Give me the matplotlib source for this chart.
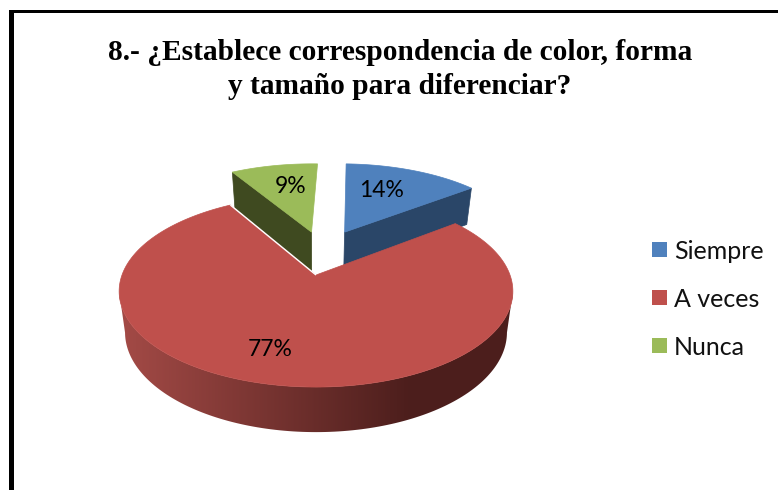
import numpy as np
import matplotlib
matplotlib.use('Agg')
import matplotlib.pyplot as plt
from matplotlib.colors import LinearSegmentedColormap
from matplotlib.patches import Polygon, Rectangle

categories = ['Siempre', 'A veces', 'Nunca']
percents = [14, 77, 9]
title_lines = ['8.- ¿Establece correspondencia de color, forma',
               'y tamaño para diferenciar?']

top_colors = ['#4F81BD', '#BF504C', '#9BBB59']
wall_colors = ['#2A4668', None, '#3F4A20']

# pie geometry in pixels, y pointing down
CX, CY = 316, 275
RX, RY = 194, 93
PERSP = 0.17
DEPTH = 40.3
START_ANGLE = 2
# how far each slice is pulled out of the pie, on the pie plane
explode = [(0.16, -0.50), (0, 0), (-0.025, -0.50)]
LABEL_POS = [(382, 190.5), (270, 349), (291, 186.5)]


def project(u, v, low=0.0):
    s = 1 / (1 - PERSP * v)
    shrink = 1 - 0.03 * low
    return CX + RX * u * s * shrink, CY + RY * v * s + low * DEPTH * s ** 0.6


def arc(start, stop, off, low=0.0, n=120):
    ang = np.radians(np.linspace(start, stop, n))
    return np.column_stack(project(np.sin(ang) + off[0], -np.cos(ang) + off[1], low))


def wall(angle, off):
    # flat cut face of a pulled out slice
    a = np.radians(angle)
    corners = [project(off[0], off[1]),
               project(np.sin(a) + off[0], -np.cos(a) + off[1]),
               project(np.sin(a) + off[0], -np.cos(a) + off[1], 1),
               project(off[0], off[1], 1)]
    return corners


fig = plt.figure(figsize=(7.78, 4.9), dpi=100)
ax = fig.add_axes([0, 0, 1, 1])
ax.axis('off')

# frame around the chart, open at the right and bottom
ax.add_patch(Rectangle((9, 10), 769, 3, color='black', lw=0))
ax.add_patch(Rectangle((9, 10), 5.5, 480, color='black', lw=0))

edges = START_ANGLE + np.cumsum([0] + percents) * 3.6

# back slices first
for i in [2, 0]:
    start, stop = edges[i], edges[i + 1]
    off = explode[i]
    cut = start if i == 2 else stop
    ax.add_patch(Polygon(wall(cut, off), closed=True, fc=wall_colors[i], ec=wall_colors[i], lw=0.5))
    face = np.vstack([project(off[0], off[1]), arc(start, stop, off)])
    ax.add_patch(Polygon(face, closed=True, fc=top_colors[i], ec=top_colors[i], lw=0.5))

# rim of the big slice, shaded from left to right
start, stop = edges[1], edges[2]
upper = arc(start, stop, explode[1], 0, 240)
lower = arc(start, stop, explode[1], 1, 240)
# outline runs between the widest points of both arcs so the sides stay straight
upper_front = upper[upper[:, 0].argmax():upper[:, 0].argmin() + 1]
lower_front = lower[lower[:, 0].argmax():lower[:, 0].argmin() + 1]
rim = Polygon(np.vstack([upper_front, lower_front[::-1]]), closed=True, fc='none', ec='none')
ax.add_patch(rim)
rim_cmap = LinearSegmentedColormap.from_list('rim', ['#A54B47', '#4C1E1C'])
shade = ax.imshow(np.clip(np.linspace(0, 1.35, 400), 0, 1)[None, :], cmap=rim_cmap, aspect='auto',
                  extent=(115, 515, 440, 200), zorder=1)
shade.set_clip_path(rim)

face = np.vstack([project(0, 0), upper])
ax.add_patch(Polygon(face, closed=True, fc=top_colors[1], ec=top_colors[1], lw=0.5, zorder=2))
# thin light edge where the big slice meets the green one
ax.plot([upper[-1, 0], CX], [upper[-1, 1], CY], color='white', lw=1, solid_capstyle='butt', zorder=3)

for pos, p in zip(LABEL_POS, percents):
    ax.text(pos[0], pos[1], f'{p}%', family='Lato', fontsize=16.5, color='black', ha='center', va='center', zorder=4)

ax.text(400, 53, title_lines[0], family='Liberation Serif', fontweight='bold', fontsize=21.2,
        ha='center', va='center', color='black')
ax.text(400, 87, title_lines[1], family='Liberation Serif', fontweight='bold', fontsize=21.2,
        ha='center', va='center', color='black')

for i, name in enumerate(categories):
    y = 249.5 + i * 48
    ax.add_patch(Rectangle((652, y - 7.5), 15, 15, color=top_colors[i], lw=0))
    ax.text(674, y + 2, name, family='Lato', fontsize=18, color='#111111', ha='left', va='center')

ax.set_xlim(0, 778)
ax.set_ylim(490, 0)

plt.savefig('out.png', dpi=100)
plt.close()
